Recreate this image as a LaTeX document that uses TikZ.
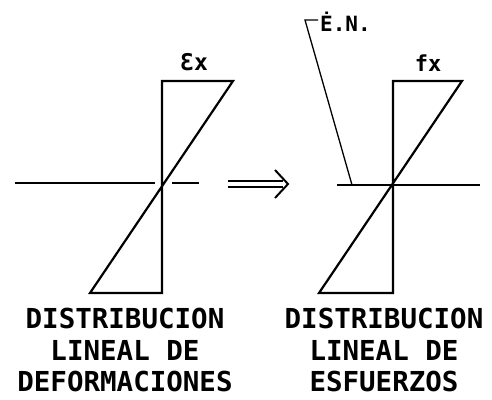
\documentclass[tikz,border=0pt]{standalone}
\usepackage{fontspec}
\setmainfont{DejaVu Sans}
\newfontfamily\letrafont{DejaVu Sans Mono}
\usepackage{xcolor}
\definecolor{cInk}{HTML}{000000}
\usetikzlibrary{arrows.meta,calc}
\tikzset{
  line-main/.style={draw=cInk,line width=2.2pt,line join=miter},
  line-axis/.style={draw=cInk,line width=1.6pt},
  line-lead/.style={draw=cInk,line width=1.3pt},
  arrow-shaft/.style={draw=cInk,line width=1.8pt,double,double distance=4pt},
  arrow-head/.style={draw=cInk,line width=2pt,line join=miter},
  txt-caption/.style={font=\letrafont\bfseries\fontsize{27.5}{31.5}\selectfont,align=center,
    inner sep=0pt,anchor=north},
  txt-label/.style={font=\letrafont\bfseries\fontsize{23}{23}\selectfont,inner sep=0pt},
}

\begin{document}
\begin{tikzpicture}[x=1pt,y=-1pt]
  \useasboundingbox (0,0) rectangle (492,399);
  % diagrama de deformaciones
  \coordinate (def-top) at (162,81);
  \coordinate (def-tip) at (233,81);
  \coordinate (def-low) at (90,293);
  \coordinate (def-bot) at (162,293);
  \draw[line-main] (def-top) -- (def-tip) -- (def-low) -- (def-bot) -- cycle;
  \coordinate (def-ax1) at (15,183);
  \coordinate (def-ax2) at (155,183);
  \coordinate (def-ax3) at (172,183);
  \coordinate (def-ax4) at (199,183);
  \draw[line-axis] (def-ax1) -- (def-ax2) (def-ax3) -- (def-ax4);
  \node[txt-label] (eps) at (194,62) {Ɛx};
  % flecha
  \coordinate (arr-a) at (228,184);
  \coordinate (arr-c) at (283,184);
  \coordinate (arr-b) at (288,184);
  \draw[arrow-shaft] (arr-a) -- (arr-c);
  \draw[arrow-head] ($(arr-b)+(-13,-14)$) -- (arr-b) -- ($(arr-b)+(-13,14)$);
  % diagrama de esfuerzos
  \coordinate (esf-top) at (393,81);
  \coordinate (esf-tip) at (462,81);
  \coordinate (esf-low) at (319,293);
  \coordinate (esf-bot) at (393,293);
  \draw[line-main] (esf-top) -- (esf-tip) -- (esf-low) -- (esf-bot) -- cycle;
  \coordinate (esf-ax1) at (337,185);
  \coordinate (esf-ax2) at (480,185);
  \draw[line-axis] (esf-ax1) -- (esf-ax2);
  \node[txt-label,font=\letrafont\bfseries\fontsize{22}{22}\selectfont] (fx) at (428,63) {fx};
  % eje neutro
  \coordinate (en-foot) at (352,185);
  \coordinate (en-knee) at (305,20);
  \coordinate (en-end) at (318,20);
  \draw[line-lead] (en-foot) -- (en-knee) -- (en-end);
  \node[txt-label,font=\letrafont\bfseries\fontsize{21}{21}\selectfont,anchor=west] (en) at (320,22) {Ė.N.};
  % textos
  \node[txt-caption] (cap-def) at (125,308) {DISTRIBUCION\\LINEAL DE\\DEFORMACIONES};
  \node[txt-caption] (cap-esf) at (384,308) {DISTRIBUCION\\LINEAL DE\\ESFUERZOS};
\end{tikzpicture}
\end{document}
